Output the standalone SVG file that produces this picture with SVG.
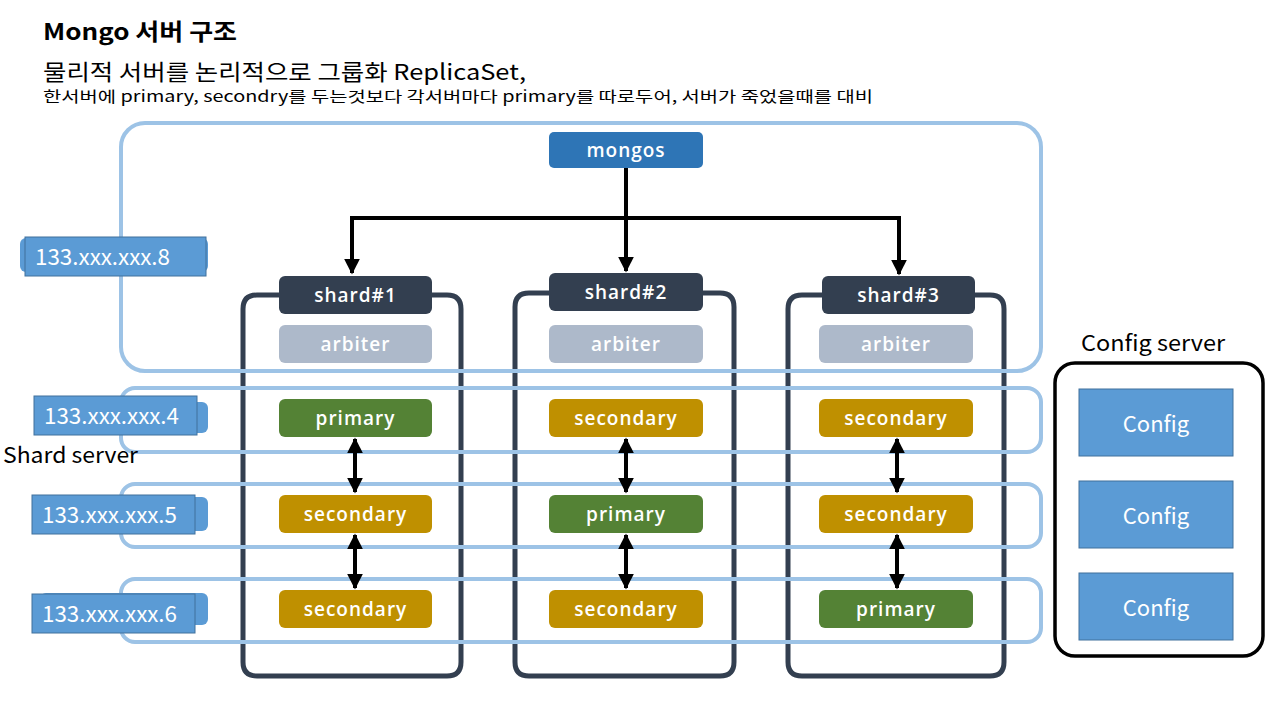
<svg xmlns="http://www.w3.org/2000/svg" width="1280" height="720" viewBox="0 0 1280 720">
<style>
.kr{font-family:"Noto Sans CJK KR","Noto Sans",sans-serif;fill:#000}
.lbl{font-family:"Open Sans","Noto Sans",sans-serif;font-size:19px;font-weight:600;letter-spacing:1px;fill:#fff;text-anchor:middle}
.ip{font-family:"Noto Sans CJK KR","Noto Sans",sans-serif;font-size:22px;fill:#fff}
.band{fill:none;stroke:#9DC3E6;stroke-width:4}
.cont{fill:none;stroke:#333F50;stroke-width:5}
.hdr{fill:#333F50}
.arb{fill:#ADB9CA}
.pri{fill:#548235}
.sec{fill:#BF9000}
.ipb{fill:#5B9BD5;stroke:#41719C;stroke-width:1}
.ipbk{fill:#5B9BD5}
.cfg{fill:#5B9BD5;stroke:#41719C;stroke-width:1}
.conn{fill:none;stroke:#000;stroke-width:4}
</style>
<defs>
<marker id="ah" viewBox="0 0 10 10" refX="9" refY="5" markerWidth="4" markerHeight="4" orient="auto-start-reverse" markerUnits="strokeWidth">
<path d="M0,0 L10,5 L0,10 z" fill="#000"/>
</marker>
</defs>
<rect width="1280" height="720" fill="#fff"/>

<g id="titles">
<text class="kr" x="43" y="40" font-size="23" font-weight="bold" textLength="194" lengthAdjust="spacingAndGlyphs">Mongo 서버 구조</text>
<text class="kr" x="43" y="80" font-size="22" textLength="483" lengthAdjust="spacingAndGlyphs">물리적 서버를 논리적으로 그룹화 ReplicaSet,</text>
<text class="kr" x="43" y="102" font-size="15" textLength="830" lengthAdjust="spacingAndGlyphs">한서버에 primary, secondry를 두는것보다 각서버마다 primary를 따로두어, 서버가 죽었을때를 대비</text>
</g>

<g id="shard1">
<path class="cont" d="M280,295 H257 Q243,295 243,309 V662 Q243,676 257,676 H447 Q461,676 461,662 V309 Q461,295 447,295 H432"/>
<rect class="hdr" x="279" y="276" width="153" height="38" rx="6"/>
<text class="lbl" x="355.5" y="302">shard#1</text>
</g>
<g id="shard2">
<path class="cont" d="M550,293 H529 Q515,293 515,307 V662 Q515,676 529,676 H720 Q734,676 734,662 V307 Q734,293 720,293 H703"/>
<rect class="hdr" x="549" y="273" width="154" height="38" rx="6"/>
<text class="lbl" x="626" y="299">shard#2</text>
</g>
<g id="shard3">
<path class="cont" d="M823,295 H802 Q788,295 788,309 V662 Q788,676 802,676 H990 Q1004,676 1004,662 V309 Q1004,295 990,295 H975"/>
<rect class="hdr" x="822" y="276" width="153" height="38" rx="6"/>
<text class="lbl" x="898.5" y="302">shard#3</text>
</g>

<g id="bands">
<rect id="band-top" class="band" x="121" y="123" width="920" height="248" rx="24"/>
<rect id="band-4" class="band" x="121" y="388" width="920" height="64" rx="14"/>
<rect id="band-5" class="band" x="121" y="484" width="920" height="63" rx="14"/>
<rect id="band-6" class="band" x="121" y="579" width="920" height="63" rx="14"/>
</g>

<g id="mongos">
<rect x="549" y="132" width="154" height="36" rx="5" fill="#2E75B6"/>
<text class="lbl" x="626" y="157">mongos</text>
</g>

<g id="arbiters">
<rect class="arb" x="279" y="325" width="153" height="38" rx="6"/>
<text class="lbl" x="355.5" y="351">arbiter</text>
<rect class="arb" x="549" y="325" width="154" height="38" rx="6"/>
<text class="lbl" x="626" y="351">arbiter</text>
<rect class="arb" x="819" y="325" width="154" height="38" rx="6"/>
<text class="lbl" x="896" y="351">arbiter</text>
</g>

<g id="s1-primary"><rect class="pri" x="279" y="399" width="153" height="38" rx="6"/><text class="lbl" x="355.5" y="425">primary</text></g>
<g id="s1-secondary-a"><rect class="sec" x="279" y="495" width="153" height="38" rx="6"/><text class="lbl" x="355.5" y="521">secondary</text></g>
<g id="s1-secondary-b"><rect class="sec" x="279" y="590" width="153" height="38" rx="6"/><text class="lbl" x="355.5" y="616">secondary</text></g>

<g id="s2-secondary-a"><rect class="sec" x="549" y="399" width="154" height="38" rx="6"/><text class="lbl" x="626" y="425">secondary</text></g>
<g id="s2-primary"><rect class="pri" x="549" y="495" width="154" height="38" rx="6"/><text class="lbl" x="626" y="521">primary</text></g>
<g id="s2-secondary-b"><rect class="sec" x="549" y="590" width="154" height="38" rx="6"/><text class="lbl" x="626" y="616">secondary</text></g>

<g id="s3-secondary-a"><rect class="sec" x="819" y="399" width="154" height="38" rx="6"/><text class="lbl" x="896" y="425">secondary</text></g>
<g id="s3-secondary-b"><rect class="sec" x="819" y="495" width="154" height="38" rx="6"/><text class="lbl" x="896" y="521">secondary</text></g>
<g id="s3-primary"><rect class="pri" x="819" y="590" width="154" height="38" rx="6"/><text class="lbl" x="896" y="616">primary</text></g>

<g id="connectors">
<path class="conn" d="M626,168 V218"/>
<path class="conn" d="M352,218 H899"/>
<path class="conn" d="M352,216 V273" marker-end="url(#ah)"/>
<path class="conn" d="M626,218 V271" marker-end="url(#ah)"/>
<path class="conn" d="M899,216 V274" marker-end="url(#ah)"/>
<path class="conn" d="M355,439 V492" marker-start="url(#ah)" marker-end="url(#ah)"/>
<path class="conn" d="M355,535 V588" marker-start="url(#ah)" marker-end="url(#ah)"/>
<path class="conn" d="M626,439 V492" marker-start="url(#ah)" marker-end="url(#ah)"/>
<path class="conn" d="M626,535 V588" marker-start="url(#ah)" marker-end="url(#ah)"/>
<path class="conn" d="M897,439 V492" marker-start="url(#ah)" marker-end="url(#ah)"/>
<path class="conn" d="M897,535 V588" marker-start="url(#ah)" marker-end="url(#ah)"/>
</g>

<g id="ip8">
<rect class="ipbk" x="20" y="238" width="188" height="34" rx="6"/>
<rect class="ipb" x="25" y="237" width="181" height="39"/>
<text class="ip" x="35" y="265" textLength="135" lengthAdjust="spacingAndGlyphs">133.xxx.xxx.8</text>
</g>
<g id="ip4">
<rect class="ipbk" x="40" y="402" width="168" height="31" rx="6"/>
<rect class="ipb" x="34" y="396" width="163" height="39"/>
<text class="ip" x="44" y="424" textLength="135" lengthAdjust="spacingAndGlyphs">133.xxx.xxx.4</text>
</g>
<g id="ip5">
<rect class="ipbk" x="40" y="497" width="168" height="34" rx="6"/>
<rect class="ipb" x="32" y="495" width="163" height="39"/>
<text class="ip" x="42" y="523" textLength="135" lengthAdjust="spacingAndGlyphs">133.xxx.xxx.5</text>
</g>
<g id="ip6">
<rect class="ipbk" x="40" y="593" width="168" height="32" rx="6"/>
<rect class="ipb" x="32" y="594" width="163" height="39"/>
<text class="ip" x="42" y="622" textLength="135" lengthAdjust="spacingAndGlyphs">133.xxx.xxx.6</text>
</g>

<g id="shard-server-label">
<text class="kr" x="3" y="463" font-size="22" textLength="135" lengthAdjust="spacingAndGlyphs">Shard server</text>
</g>

<g id="config-server">
<text class="kr" x="1081" y="351" font-size="22" textLength="144" lengthAdjust="spacingAndGlyphs">Config server</text>
<rect x="1055" y="363" width="208" height="293" rx="20" fill="none" stroke="#000" stroke-width="3.5"/>
</g>
<g id="config1"><rect class="cfg" x="1079" y="389" width="154" height="67"/><text class="ip" x="1156" y="432" text-anchor="middle" font-size="25">Config</text></g>
<g id="config2"><rect class="cfg" x="1079" y="481" width="154" height="67"/><text class="ip" x="1156" y="524" text-anchor="middle" font-size="25">Config</text></g>
<g id="config3"><rect class="cfg" x="1079" y="573" width="154" height="67"/><text class="ip" x="1156" y="616" text-anchor="middle" font-size="25">Config</text></g>
</svg>
